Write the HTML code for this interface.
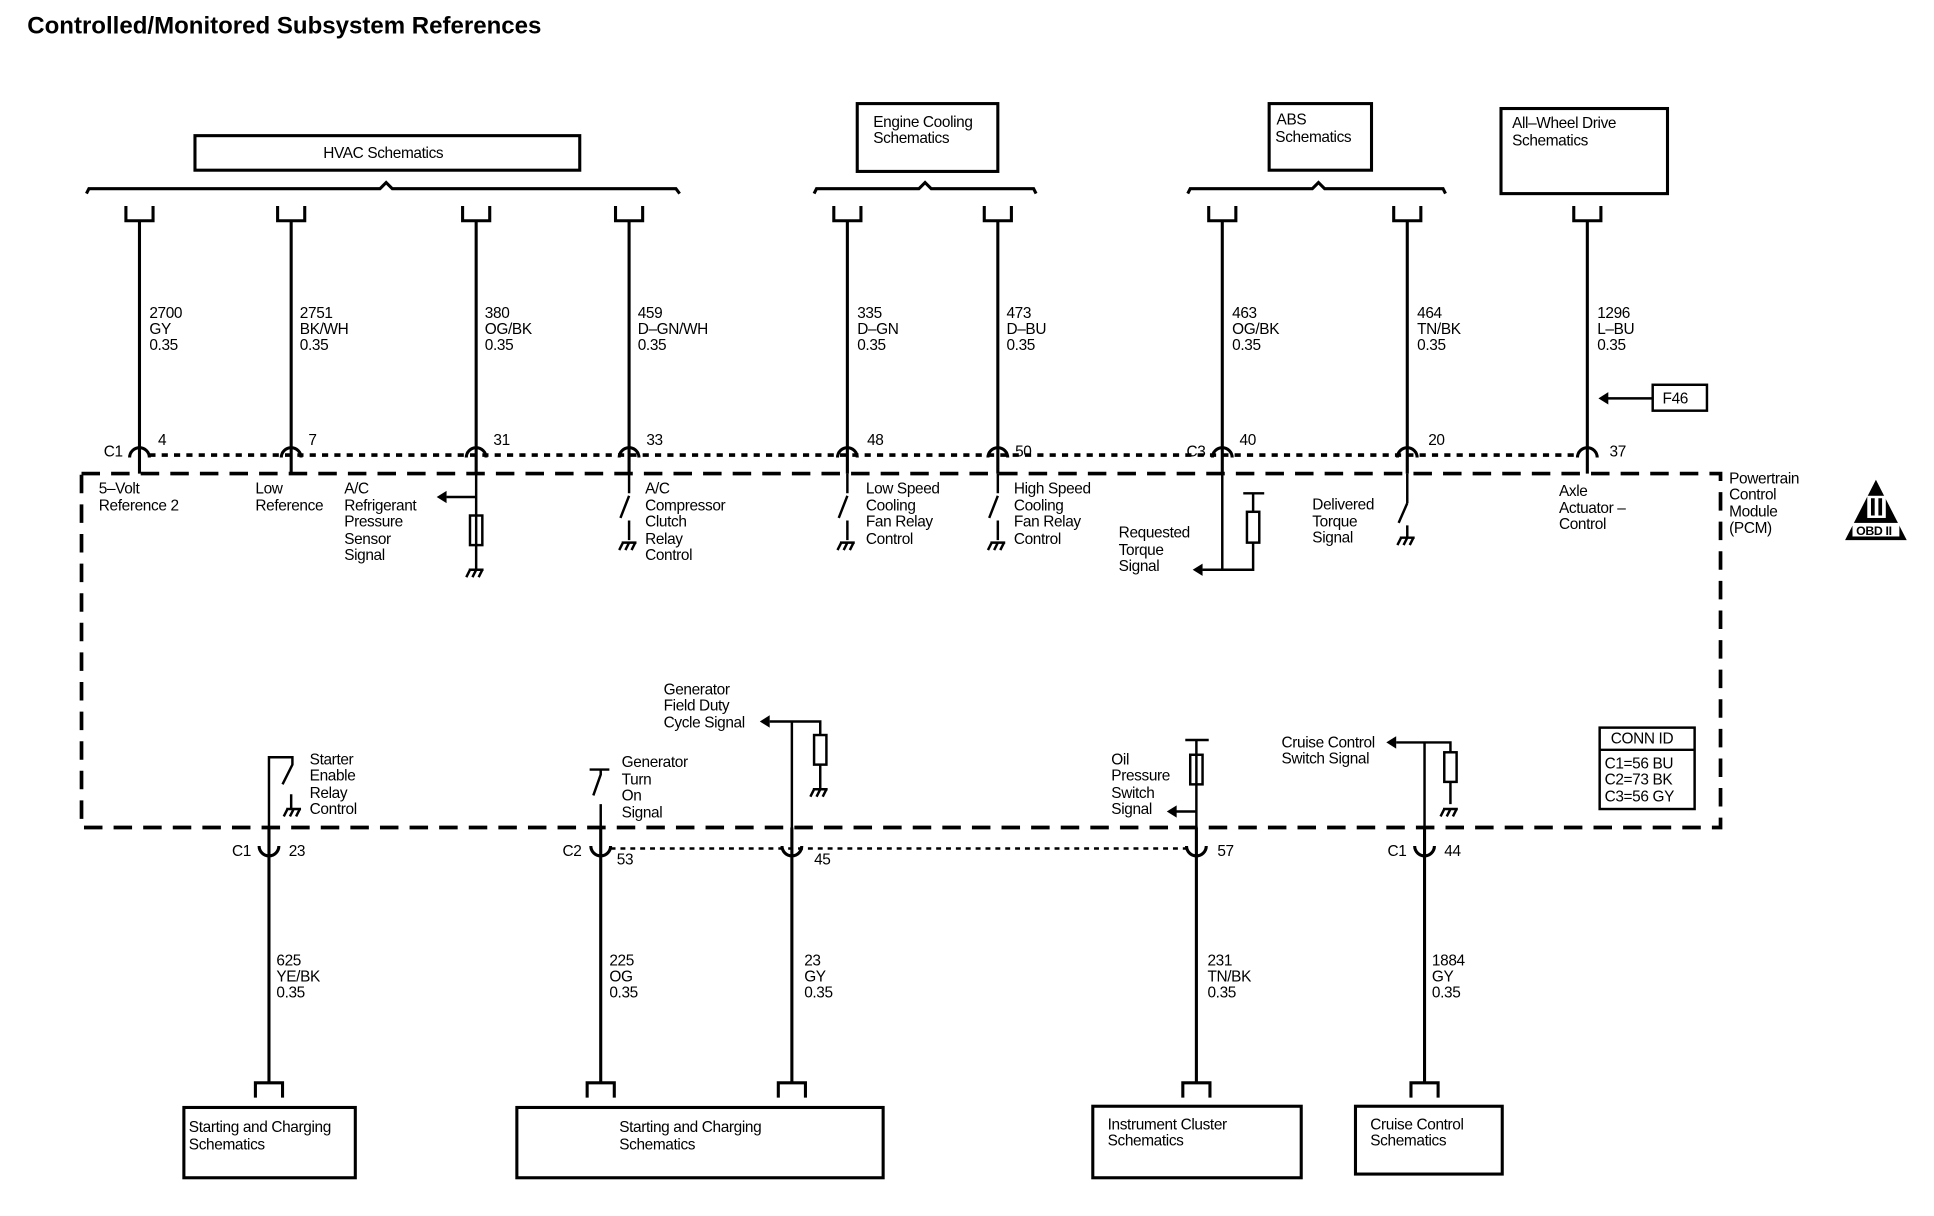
<!DOCTYPE html>
<html><head><meta charset="utf-8"><style>
html,body{margin:0;padding:0;background:#fff;}
svg{display:block;}
text{font-family:"Liberation Sans",Arial,sans-serif;font-size:12.5px;fill:#000;letter-spacing:-0.3px;}
.t{font-size:19.5px;font-weight:bold;letter-spacing:0;}
</style></head><body>
<svg width="1934" height="1216" viewBox="0 0 1568 986" xmlns="http://www.w3.org/2000/svg">
<defs>
<path id="cupT" d="M-11 167 V179 H11 V167" fill="none" stroke="#000" stroke-width="2.5"/>
<path id="cupB" d="M-11 890 V878 H11 V890" fill="none" stroke="#000" stroke-width="2.5"/>
<path id="arcT" d="M-8 371 A8 8 0 0 1 8 371" fill="none" stroke="#000" stroke-width="2.5"/>
<path id="arcB" d="M-8 686 A8 8 0 0 0 8 686" fill="none" stroke="#000" stroke-width="2.5"/>
<g id="gnd" stroke="#000" stroke-width="2" fill="none"><path d="M-6 0 H6 M-5 0 L-8 6 M0 0 L-3 6 M5 0 L2 6"/></g>
</defs>
<text class="t" x="22" y="27">Controlled/Monitored Subsystem References</text>

<g fill="none" stroke="#000" stroke-width="2.5">
<rect x="158" y="110" width="312" height="28"/>
<rect x="695" y="84" width="114" height="55"/>
<rect x="1029" y="84" width="83" height="54"/>
<rect x="1217" y="88" width="135" height="69"/>
<path d="M70 157 L72 153 H308 L313 148 L318 153 H548 L551 157"/>
<path d="M660 157 L662 153 H745 L750 148 L755 153 H838 L840 157"/>
<path d="M963 157 L965 153 H1064 L1069 148 L1074 153 H1170 L1172 157"/>
<path d="M66 384 H1395 V671 H66 Z" stroke-width="3" stroke-dasharray="15 9"/>
<path d="M121 369 H1280" stroke-width="3" stroke-dasharray="5 5"/>
<path d="M495 688 H962" stroke-width="2" stroke-dasharray="4 4"/>
<path d="M113 179 V384 M236 179 V384 M386 179 V384 M510 179 V384 M687 179 V384 M809 179 V384 M991 179 V384 M1141 179 V384 M1287 179 V384"/>
<path d="M218 671 V878 M487 671 V878 M642 671 V878 M970 671 V878 M1155 671 V878"/>
<rect x="149" y="898" width="139" height="57"/>
<rect x="419" y="898" width="297" height="57"/>
<rect x="886" y="897" width="169" height="58"/>
<rect x="1099" y="897" width="119" height="55"/>
<rect x="1297" y="590" width="77" height="66" stroke-width="2"/>
<path d="M1297 608 H1374" stroke-width="2"/>
<rect x="1340" y="312" width="44" height="21" stroke-width="2"/>
<path d="M1298 323 H1340" stroke-width="2"/>
</g>
<path d="M1296 323 l8 -5 v10 z"/>
<text x="1348" y="327">F46</text>

<g>
<use href="#cupT" x="113"/><use href="#cupT" x="236"/><use href="#cupT" x="386"/><use href="#cupT" x="510"/><use href="#cupT" x="687"/><use href="#cupT" x="809"/><use href="#cupT" x="991"/><use href="#cupT" x="1141"/><use href="#cupT" x="1287"/>
<use href="#arcT" x="113"/><use href="#arcT" x="236"/><use href="#arcT" x="386"/><use href="#arcT" x="510"/><use href="#arcT" x="687"/><use href="#arcT" x="809"/><use href="#arcT" x="991"/><use href="#arcT" x="1141"/><use href="#arcT" x="1287"/>
<use href="#cupB" x="218"/><use href="#cupB" x="487"/><use href="#cupB" x="642"/><use href="#cupB" x="970"/><use href="#cupB" x="1155"/>
<use href="#arcB" x="218"/><use href="#arcB" x="487"/><use href="#arcB" x="642"/><use href="#arcB" x="970"/><use href="#arcB" x="1155"/>
</g>

<text x="1226" y="104">All–Wheel Drive</text><text x="1226" y="118">Schematics</text>
<text x="262" y="128">HVAC Schematics</text>
<text x="708" y="103">Engine Cooling</text><text x="708" y="116">Schematics</text>
<text x="1035" y="101">ABS</text><text x="1034" y="115">Schematics</text>

<g>
<text x="121" y="258">2700</text><text x="121" y="271">GY</text><text x="121" y="284">0.35</text>
<text x="243" y="258">2751</text><text x="243" y="271">BK/WH</text><text x="243" y="284">0.35</text>
<text x="393" y="258">380</text><text x="393" y="271">OG/BK</text><text x="393" y="284">0.35</text>
<text x="517" y="258">459</text><text x="517" y="271">D–GN/WH</text><text x="517" y="284">0.35</text>
<text x="695" y="258">335</text><text x="695" y="271">D–GN</text><text x="695" y="284">0.35</text>
<text x="816" y="258">473</text><text x="816" y="271">D–BU</text><text x="816" y="284">0.35</text>
<text x="999" y="258">463</text><text x="999" y="271">OG/BK</text><text x="999" y="284">0.35</text>
<text x="1149" y="258">464</text><text x="1149" y="271">TN/BK</text><text x="1149" y="284">0.35</text>
<text x="1295" y="258">1296</text><text x="1295" y="271">L–BU</text><text x="1295" y="284">0.35</text>

<text x="84" y="370">C1</text><text x="128" y="361">4</text><text x="250" y="361">7</text><text x="400" y="361">31</text><text x="524" y="361">33</text><text x="703" y="361">48</text><text x="823" y="370">50</text><text x="962" y="370">C3</text><text x="1005" y="361">40</text><text x="1158" y="361">20</text><text x="1305" y="370">37</text>

<text x="80" y="400">5–Volt</text><text x="80" y="414">Reference 2</text>
<text x="207" y="400">Low</text><text x="207" y="414">Reference</text>
<text x="279" y="400">A/C</text><text x="279" y="414">Refrigerant</text><text x="279" y="427">Pressure</text><text x="279" y="441">Sensor</text><text x="279" y="454">Signal</text>
<text x="523" y="400">A/C</text><text x="523" y="414">Compressor</text><text x="523" y="427">Clutch</text><text x="523" y="441">Relay</text><text x="523" y="454">Control</text>
<text x="702" y="400">Low Speed</text><text x="702" y="414">Cooling</text><text x="702" y="427">Fan Relay</text><text x="702" y="441">Control</text>
<text x="822" y="400">High Speed</text><text x="822" y="414">Cooling</text><text x="822" y="427">Fan Relay</text><text x="822" y="441">Control</text>
<text x="907" y="436">Requested</text><text x="907" y="450">Torque</text><text x="907" y="463">Signal</text>
<text x="1064" y="413">Delivered</text><text x="1064" y="427">Torque</text><text x="1064" y="440">Signal</text>
<text x="1264" y="402">Axle</text><text x="1264" y="416">Actuator –</text><text x="1264" y="429">Control</text>
<text x="1402" y="392">Powertrain</text><text x="1402" y="405">Control</text><text x="1402" y="419">Module</text><text x="1402" y="432">(PCM)</text>
</g>

<path d="M1521 389 L1546 438 H1496 Z"/>
<rect x="1514" y="402" width="15" height="18" fill="#fff"/>
<rect x="1517" y="404" width="3" height="14"/><rect x="1523" y="404" width="3" height="14"/>
<rect x="1502" y="424" width="38" height="11" fill="#fff"/>
<text x="1505" y="434" style="font-size:10px;font-weight:bold">OBD II</text>

<g fill="none" stroke="#000" stroke-width="2">
<path d="M386 384 V462 M386 403 H362"/>
<rect x="381" y="418" width="10" height="24"/>
<path d="M510 384 V400 M510 402 L503 420 M510 422 V438"/>
<path d="M687 384 V400 M687 402 L680 420 M687 422 V438"/>
<path d="M809 384 V400 M809 402 L802 420 M809 422 V438"/>
<path d="M991 384 V462 H975 M991 462 H1016 V440 M1016 415 V400 M1008 400 H1025"/>
<rect x="1011" y="415" width="10" height="25"/>
<path d="M1141 384 V408 M1141 408 L1134 424 M1141 426 V436"/>
<path d="M218 671 V614 H237 V620 L229 636 M236 644 V656"/>
<path d="M487 671 V652 M478 624 H494 M487 624 V628 L481 645"/>
<path d="M642 671 V585 H624 M642 585 H665 V596 M665 620 V640"/>
<rect x="660" y="596" width="10" height="24"/>
<path d="M970 671 V600 M961 600 H980 M970 658 H952"/>
<rect x="965" y="612" width="10" height="24"/>
<path d="M1155 671 V602 H1132 M1155 602 H1176 V610 M1176 634 V652"/>
<rect x="1171" y="610" width="10" height="24"/>
</g>
<g>
<path d="M354 403 l8 -5 v10z"/><path d="M967 462 l8 -5 v10z"/><path d="M616 585 l8 -5 v10z"/><path d="M946 658 l8 -5 v10z"/><path d="M1124 602 l8 -5 v10z"/>
<use href="#gnd" x="386" y="462"/><use href="#gnd" x="510" y="440"/><use href="#gnd" x="687" y="440"/><use href="#gnd" x="809" y="440"/><use href="#gnd" x="1141" y="436"/>
<use href="#gnd" x="238" y="656"/><use href="#gnd" x="665" y="640"/><use href="#gnd" x="1176" y="656"/>
</g>

<g>
<text x="251" y="620">Starter</text><text x="251" y="633">Enable</text><text x="251" y="647">Relay</text><text x="251" y="660">Control</text>
<text x="504" y="622">Generator</text><text x="504" y="636">Turn</text><text x="504" y="649">On</text><text x="504" y="663">Signal</text>
<text x="538" y="563">Generator</text><text x="538" y="576">Field Duty</text><text x="538" y="590">Cycle Signal</text>
<text x="901" y="620">Oil</text><text x="901" y="633">Pressure</text><text x="901" y="647">Switch</text><text x="901" y="660">Signal</text>
<text x="1039" y="606">Cruise Control</text><text x="1039" y="619">Switch Signal</text>
<text x="1306" y="603">CONN ID</text><text x="1301" y="623">C1=56 BU</text><text x="1301" y="636">C2=73 BK</text><text x="1301" y="650">C3=56 GY</text>

<text x="188" y="694">C1</text><text x="234" y="694">23</text><text x="456" y="694">C2</text><text x="500" y="701">53</text><text x="660" y="701">45</text><text x="987" y="694">57</text><text x="1125" y="694">C1</text><text x="1171" y="694">44</text>

<text x="224" y="783">625</text><text x="224" y="796">YE/BK</text><text x="224" y="809">0.35</text>
<text x="494" y="783">225</text><text x="494" y="796">OG</text><text x="494" y="809">0.35</text>
<text x="652" y="783">23</text><text x="652" y="796">GY</text><text x="652" y="809">0.35</text>
<text x="979" y="783">231</text><text x="979" y="796">TN/BK</text><text x="979" y="809">0.35</text>
<text x="1161" y="783">1884</text><text x="1161" y="796">GY</text><text x="1161" y="809">0.35</text>

<text x="153" y="918">Starting and Charging</text><text x="153" y="932">Schematics</text>
<text x="502" y="918">Starting and Charging</text><text x="502" y="932">Schematics</text>
<text x="898" y="916">Instrument Cluster</text><text x="898" y="929">Schematics</text>
<text x="1111" y="916">Cruise Control</text><text x="1111" y="929">Schematics</text>
</g>
</svg>
</body></html>
